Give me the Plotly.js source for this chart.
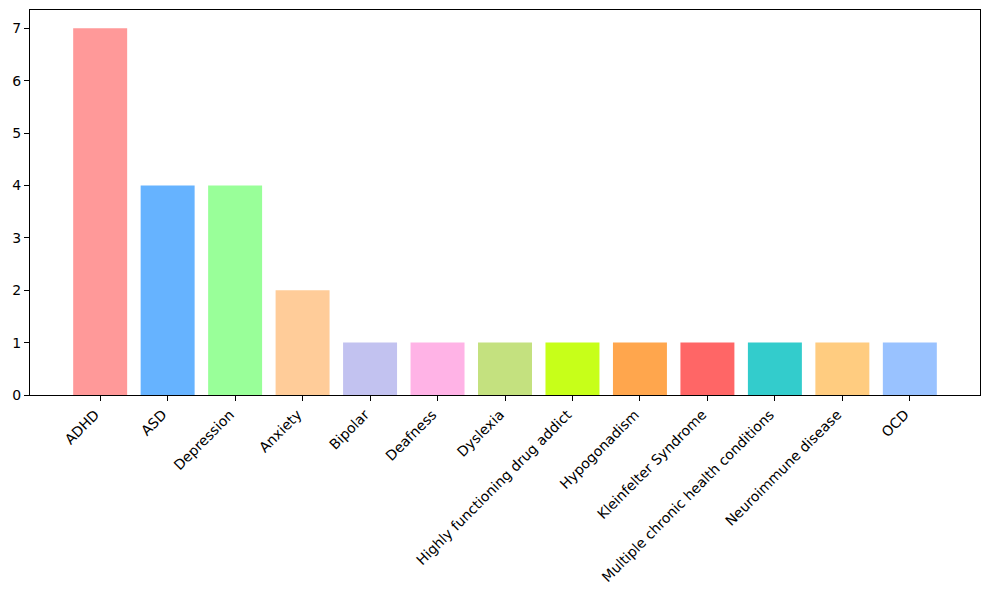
<!DOCTYPE html>
<html>
<head>
<meta charset="utf-8">
<script src="https://cdn.plot.ly/plotly-3.0.1.min.js"></script>
<style>html,body{margin:0;padding:0;background:#fff;}#chart{width:990px;height:590px;}</style>
</head>
<body>
<div id="chart"></div>
<script>
const categories = ["ADHD","ASD","Depression","Anxiety","Bipolar","Deafness","Dyslexia","Highly functioning drug addict","Hypogonadism","Kleinfelter Syndrome","Multiple chronic health conditions","Neuroimmune disease","OCD"];
const counts = [7,4,4,2,1,1,1,1,1,1,1,1,1];
const colors = ["#ff9999","#66b3ff","#99ff99","#ffcc99","#c2c2f0","#ffb3e6","#c4e17f","#c7ff19","#ffa64d","#ff6666","#33cccc","#ffcc80","#99c2ff"];
const yTicks = [0,1,2,3,4,5,6,7];

const xIdx = categories.map((c,i)=>i);
const trace = {
  type: "bar",
  x: xIdx,
  y: counts,
  width: 0.8,
  marker: {color: colors, line: {width: 0}},
  hoverinfo: "x+y"
};
const layout = {
  width: 990, height: 590,
  margin: {l: 30, r: 10, t: 10, b: 195},
  paper_bgcolor: "#fff", plot_bgcolor: "#fff",
  font: {family: "DejaVu Sans", size: 14, color: "#000"},
  showlegend: false,
  xaxis: {
    range: [-1.04, 13.04],
    tickmode: "array", tickvals: xIdx, ticktext: categories,
    tickangle: -45,
    ticklabelshift: -5,
    ticks: "outside", ticklen: 5, tickcolor: "#000", tickwidth: 1,
    showline: true, linecolor: "#000", linewidth: 1, mirror: true,
    showgrid: false, zeroline: false
  },
  yaxis: {
    range: [0, 7.35],
    tickmode: "array", tickvals: yTicks,
    ticks: "outside", ticklen: 5, tickcolor: "#000", tickwidth: 1,
    showline: true, linecolor: "#000", linewidth: 1, mirror: true,
    showgrid: false, zeroline: false
  }
};
Plotly.newPlot("chart", [trace], layout, {displayModeBar: false, staticPlot: true});
</script>
</body>
</html>
